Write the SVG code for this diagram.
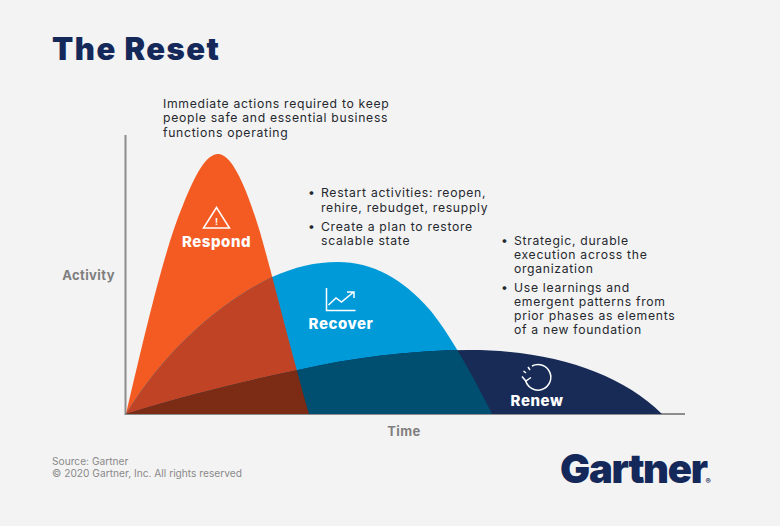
<svg xmlns="http://www.w3.org/2000/svg" width="780" height="526" viewBox="0 0 780 526">
<style>
text{font-family:"Inter","Liberation Sans",sans-serif}
.body{font-size:12.200px;fill:#25282e;letter-spacing:.7px}
.bul{font-size:12.200px;fill:#25282e}
.lab{font-size:15px;font-weight:800;fill:#fff;text-anchor:middle;letter-spacing:.55px}
.ax{font-size:13px;font-weight:700;fill:#7f7f7f;text-anchor:middle;letter-spacing:.4px}
.src{font-size:10.200px;fill:#8a8a8a}
.ic{fill:none;stroke:#fff;stroke-width:1.5}
</style>
<defs>
<path id="pA" d="M126 414C148 320 165 248 183 205C195 175 206 154 218 154C232 154 246 186 260 232C275 285 288 340 309 414Z"/>
<path id="pB" d="M126 414C168 346 222 302 272 277C295 267 315 262 338 262C372 262 402 278 430 310C448 332 470 370 492 414Z"/>
<path id="pC" d="M126 414C190 394 250 380 298 370C350 358 410 350 470 350C550 350 620 372 662 414Z"/>
<clipPath id="cA"><use href="#pA"/></clipPath>
<clipPath id="cB"><use href="#pB"/></clipPath>
</defs>
<rect width="780" height="526" fill="#f3f3f3"/>
<text x="52" y="60" fill="#14295a" style="font-size:31px;font-weight:900;letter-spacing:1.500px">The Reset</text>
<g id="connectors">
<path d="M125.500 135V414H685" fill="none" stroke="#8d8d8d" stroke-width="2"/>
</g>
<g id="respond">
<use href="#pA" fill="#f45b22"/>
</g>
<g id="recover">
<use href="#pB" fill="#009ad9"/>
</g>
<g id="renew">
<use href="#pC" fill="#172b56"/>
</g>
<g id="overlaps">
<g clip-path="url(#cA)"><use href="#pB" fill="#c04326"/></g>
<g clip-path="url(#cB)"><use href="#pC" fill="#004f70"/></g>
<g clip-path="url(#cA)"><use href="#pC" fill="#7c2b14"/></g>
</g>
<g id="respond-label">
<path class="ic" d="M216.500 207.500L203.500 228H229.500Z" stroke-width="1.6"/>
<text x="216.500" y="225" text-anchor="middle" style="font-size:9px;font-weight:700;fill:#fff">!</text>
<text class="lab" x="216.500" y="247">Respond</text>
</g>
<g id="recover-label">
<path class="ic" d="M326.500 288V310.500H355.500"/>
<path class="ic" d="M328.500 305L336 298L341.500 302L353 292.500M347 292H354V298"/>
<text class="lab" x="341" y="329">Recover</text>
</g>
<g id="renew-label">
<path class="ic" d="M532 366A12.800 12.800 0 1 1 525.500 380"/>
<path class="ic" d="M522 376.500L525.800 381L531 377.500"/>
<path class="ic" d="M523.500 371L526 373M528 367L530 370" stroke-width="1.300"/>
<text class="lab" x="537" y="406">Renew</text>
</g>
<g id="text-respond">
<text class="body"><tspan x="163" y="108">Immediate actions required to keep</tspan><tspan x="163" y="122">people safe and essential business</tspan><tspan x="163" y="137">functions operating</tspan></text>
</g>
<g id="text-recover">
<text class="bul" x="308" y="197">•</text><text class="bul" x="308" y="231">•</text>
<text class="body"><tspan x="321" y="197">Restart activities: reopen,</tspan><tspan x="321" y="212">rehire, rebudget, resupply</tspan><tspan x="321" y="231">Create a plan to restore</tspan><tspan x="321" y="245">scalable state</tspan></text>
</g>
<g id="text-renew">
<text class="bul" x="501" y="245">•</text><text class="bul" x="501" y="292">•</text>
<text class="body"><tspan x="514" y="245">Strategic, durable</tspan><tspan x="514" y="259">execution across the</tspan><tspan x="514" y="273">organization</tspan><tspan x="514" y="292">Use learnings and</tspan><tspan x="514" y="306">emergent patterns from</tspan><tspan x="514" y="320">prior phases as elements</tspan><tspan x="514" y="334">of a new foundation</tspan></text>
</g>
<text class="ax" x="88.500" y="280">Activity</text>
<text class="ax" x="404" y="436">Time</text>
<text class="src" x="52" y="465">Source: Gartner</text>
<text class="src" x="52" y="477">© 2020 Gartner, Inc. All rights reserved</text>
<g id="logo">
<text x="560" y="483" style="font-size:40px;font-weight:900;fill:#14295a;letter-spacing:-1.300px">Gartner</text>
<text x="705.500" y="484" style="font-size:8px;font-weight:700;fill:#14295a">®</text>
</g>
</svg>
